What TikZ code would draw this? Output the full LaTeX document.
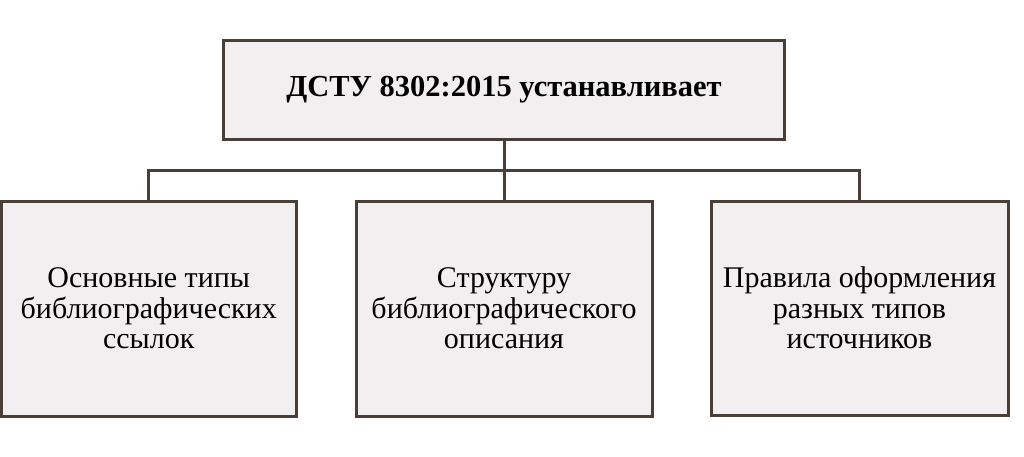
\documentclass[tikz,border=0pt]{standalone}
\usepackage{fontspec}
\setmainfont{Liberation Serif}
\newfontfamily\dstufont{Liberation Serif}
\usepackage{xcolor}
\usepackage{tikz}
\definecolor{dstuframe}{RGB}{74,63,56}
\definecolor{dstufill}{RGB}{241,239,240}

\begin{document}
\begin{tikzpicture}[x=1pt,y=-1pt,
  box/.style={draw=dstuframe, fill=dstufill, line width=3pt, align=center, inner sep=0pt,
    font=\dstufont\fontsize{30}{30.5}\selectfont},
  link/.style={draw=dstuframe, line width=3pt}]
\useasboundingbox (0,0) rectangle (1024,456);
\node[box, minimum width=561pt, minimum height=99pt, font=\dstufont\fontsize{30.5}{31}\selectfont\bfseries] (top) at (504,89.5) {ДСТУ 8302:2015 устанавливает};
\node[box, minimum width=294.5pt, minimum height=215pt] (left) at (148.75,308.5) {Основные типы\\библиографических\\ссылок};
\node[box, minimum width=296pt, minimum height=215pt] (mid) at (504,308.5) {Структуру\\библиографического\\описания};
\node[box, minimum width=297pt, minimum height=214pt] (right) at (859.5,308) {Правила оформления\\разных типов\\источников};
\coordinate (bus) at (504,170);
\draw[link] (top.south) -- (bus);
\foreach \n in {left,mid,right}
  \draw[link] (\n.north) -- (\n.north |- bus) -- (bus);
\end{tikzpicture}
\end{document}
